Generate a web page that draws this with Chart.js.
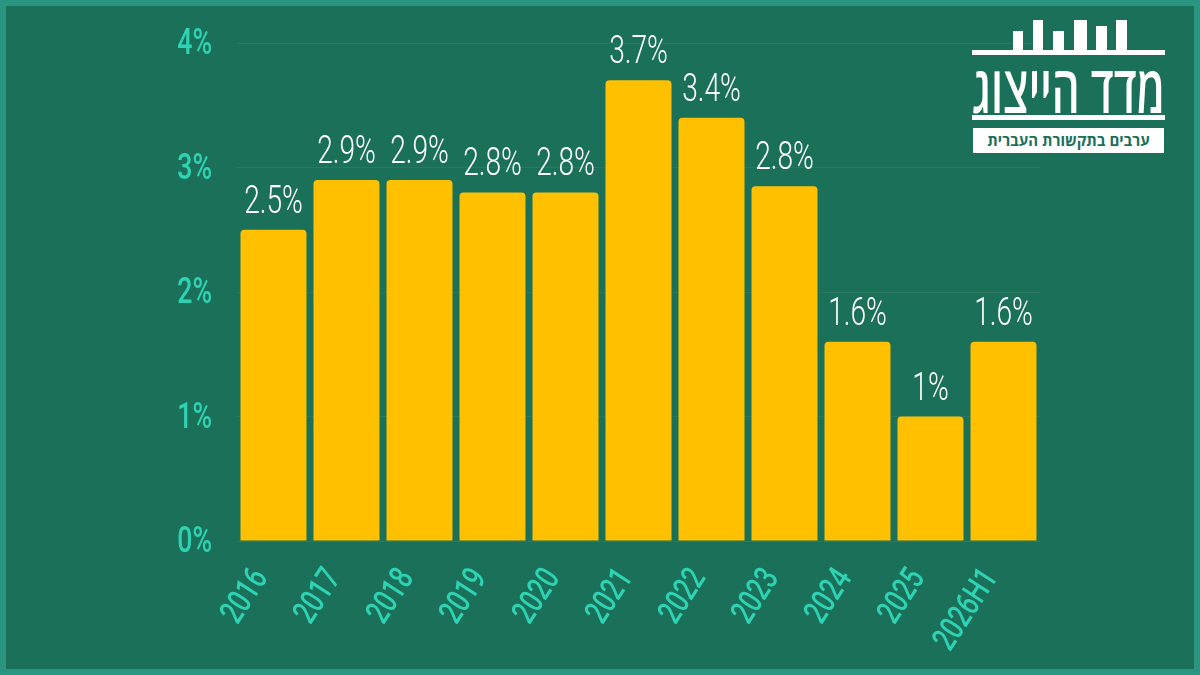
<!DOCTYPE html>
<html>
<head>
  <meta charset="utf-8">
  <script src="https://cdn.jsdelivr.net/npm/chart.js@4.4.1/dist/chart.umd.min.js"></script>
  <style>
    html, body { margin: 0; padding: 0; }
    body { width: 1200px; height: 675px; background: #2a9580; position: relative; overflow: hidden; }
    #frame { position: absolute; left: 6px; top: 6px; right: 6px; bottom: 6px; background: #1b7059; }
    #wrap { position: absolute; left: 0; top: 0; width: 1200px; height: 675px; }
    #logo .blk { position: absolute; background: #fff; }
    #title { position: absolute; left: 972px; top: 54px; color: #fff; white-space: nowrap; direction: rtl;
      font-family: "Open Sans", "DejaVu Sans", sans-serif; font-weight: 600; font-size: 66px; line-height: 66px;
      transform-origin: 0 0; }
    #sub { position: absolute; left: 973px; top: 128px; width: 191px; height: 25px; background: #fff; color: #1b7059;
      font-family: "Open Sans", sans-serif; font-weight: bold; font-size: 15px; line-height: 25px; text-align: center;
      direction: rtl; white-space: nowrap; }
  </style>
</head>
<body>
  <div id="frame"></div>
  <div id="wrap"><canvas id="myChart" width="1200" height="675"></canvas></div>
  <div id="logo">
    <div class="blk" style="left:1013px;top:31px;width:10px;height:20px"></div>
    <div class="blk" style="left:1033px;top:20px;width:10px;height:31px"></div>
    <div class="blk" style="left:1053px;top:31px;width:11px;height:20px"></div>
    <div class="blk" style="left:1074px;top:20px;width:13px;height:31px"></div>
    <div class="blk" style="left:1096px;top:26px;width:11px;height:25px"></div>
    <div class="blk" style="left:1116px;top:20px;width:11px;height:31px"></div>
    <div class="blk" style="left:972px;top:50px;width:193px;height:5px"></div>
    <div id="title">מדד הייצוג</div>
    <div class="blk" style="left:972px;top:115px;width:193px;height:5px"></div>
    <div id="sub">ערבים בתקשורת העברית</div>
  </div>
  <script>
    var years = ["2016", "2017", "2018", "2019", "2020", "2021", "2022", "2023", "2024", "2025", "2026H1"];
    var shares = [2.5, 2.9, 2.9, 2.8, 2.8, 3.7, 3.4, 2.85, 1.6, 1.0, 1.6];
    var shareLabels = ["2.5%", "2.9%", "2.9%", "2.8%", "2.8%", "3.7%", "3.4%", "2.8%", "1.6%", "1%", "1.6%"];
    var yTicks = [0, 1, 2, 3, 4];

    // squeeze the logo title to the logo width
    var title = document.getElementById("title");
    var tw = title.getBoundingClientRect().width;
    title.style.transform = "scale(" + (193 / tw) + ", 1)";

    // no condensed face installed, so the labels are squeezed by hand
    function narrowText(ctx, text, x, y, sx, rot) {
      ctx.save();
      ctx.translate(x, y);
      if (rot) ctx.rotate(rot);
      ctx.scale(sx, 1);
      ctx.fillText(text, 0, 0);
      ctx.restore();
    }

    var axisLabels = {
      id: "axisLabels",
      afterDraw: function (chart) {
        var ctx = chart.ctx;
        var ys = chart.scales.y, xs = chart.scales.x;
        ctx.save();
        ctx.fillStyle = "#2ed3b4";
        ctx.font = "500 36px Roboto";
        ctx.textAlign = "right";
        ctx.textBaseline = "middle";
        ys.ticks.forEach(function (t) {
          narrowText(ctx, t.value + "%", 212, ys.getPixelForValue(t.value) + 2, 0.74);
        });
        ctx.font = "500 34px Roboto";
        ctx.textBaseline = "middle";
        years.forEach(function (lab, i) {
          var x = xs.getPixelForValue(i);
          narrowText(ctx, lab, x - 12, ys.bottom + 32, 0.74, -57 * Math.PI / 180);
        });
        ctx.restore();
      }
    };

    var valueLabels = {
      id: "valueLabels",
      afterDatasetsDraw: function (chart) {
        var ctx = chart.ctx;
        var meta = chart.getDatasetMeta(0);
        ctx.save();
        ctx.fillStyle = "#ffffff";
        ctx.textAlign = "center";
        ctx.textBaseline = "alphabetic";
        ctx.font = "300 38px Roboto";
        meta.data.forEach(function (bar, i) {
          narrowText(ctx, shareLabels[i], bar.x, bar.y - 17, 0.74);
        });
        ctx.restore();
      }
    };

    new Chart("myChart", {
      type: "bar",
      data: {
        labels: years,
        datasets: [
          {
            data: shares,
            backgroundColor: "#ffc000",
            borderRadius: 4,
            categoryPercentage: 1,
            barPercentage: 0.904
          }
        ]
      },
      options: {
        responsive: false,
        animation: false,
        layout: { padding: { left: 0, top: 43, right: 160, bottom: 0 } },
        plugins: { legend: { display: false }, tooltip: { enabled: false } },
        scales: {
          y: {
            min: 0,
            max: 4,
            afterFit: function (scale) { scale.width = 237; },
            afterBuildTicks: function (scale) {
              scale.ticks = yTicks.map(function (v) { return { value: v }; });
            },
            grid: { color: "rgba(255,255,255,0.06)", drawTicks: false },
            border: { display: false },
            ticks: { display: false }
          },
          x: {
            afterFit: function (scale) { scale.height = 134; },
            grid: { display: false },
            border: { display: false },
            ticks: { display: false }
          }
        }
      },
      plugins: [valueLabels, axisLabels]
    });
  </script>
</body>
</html>
